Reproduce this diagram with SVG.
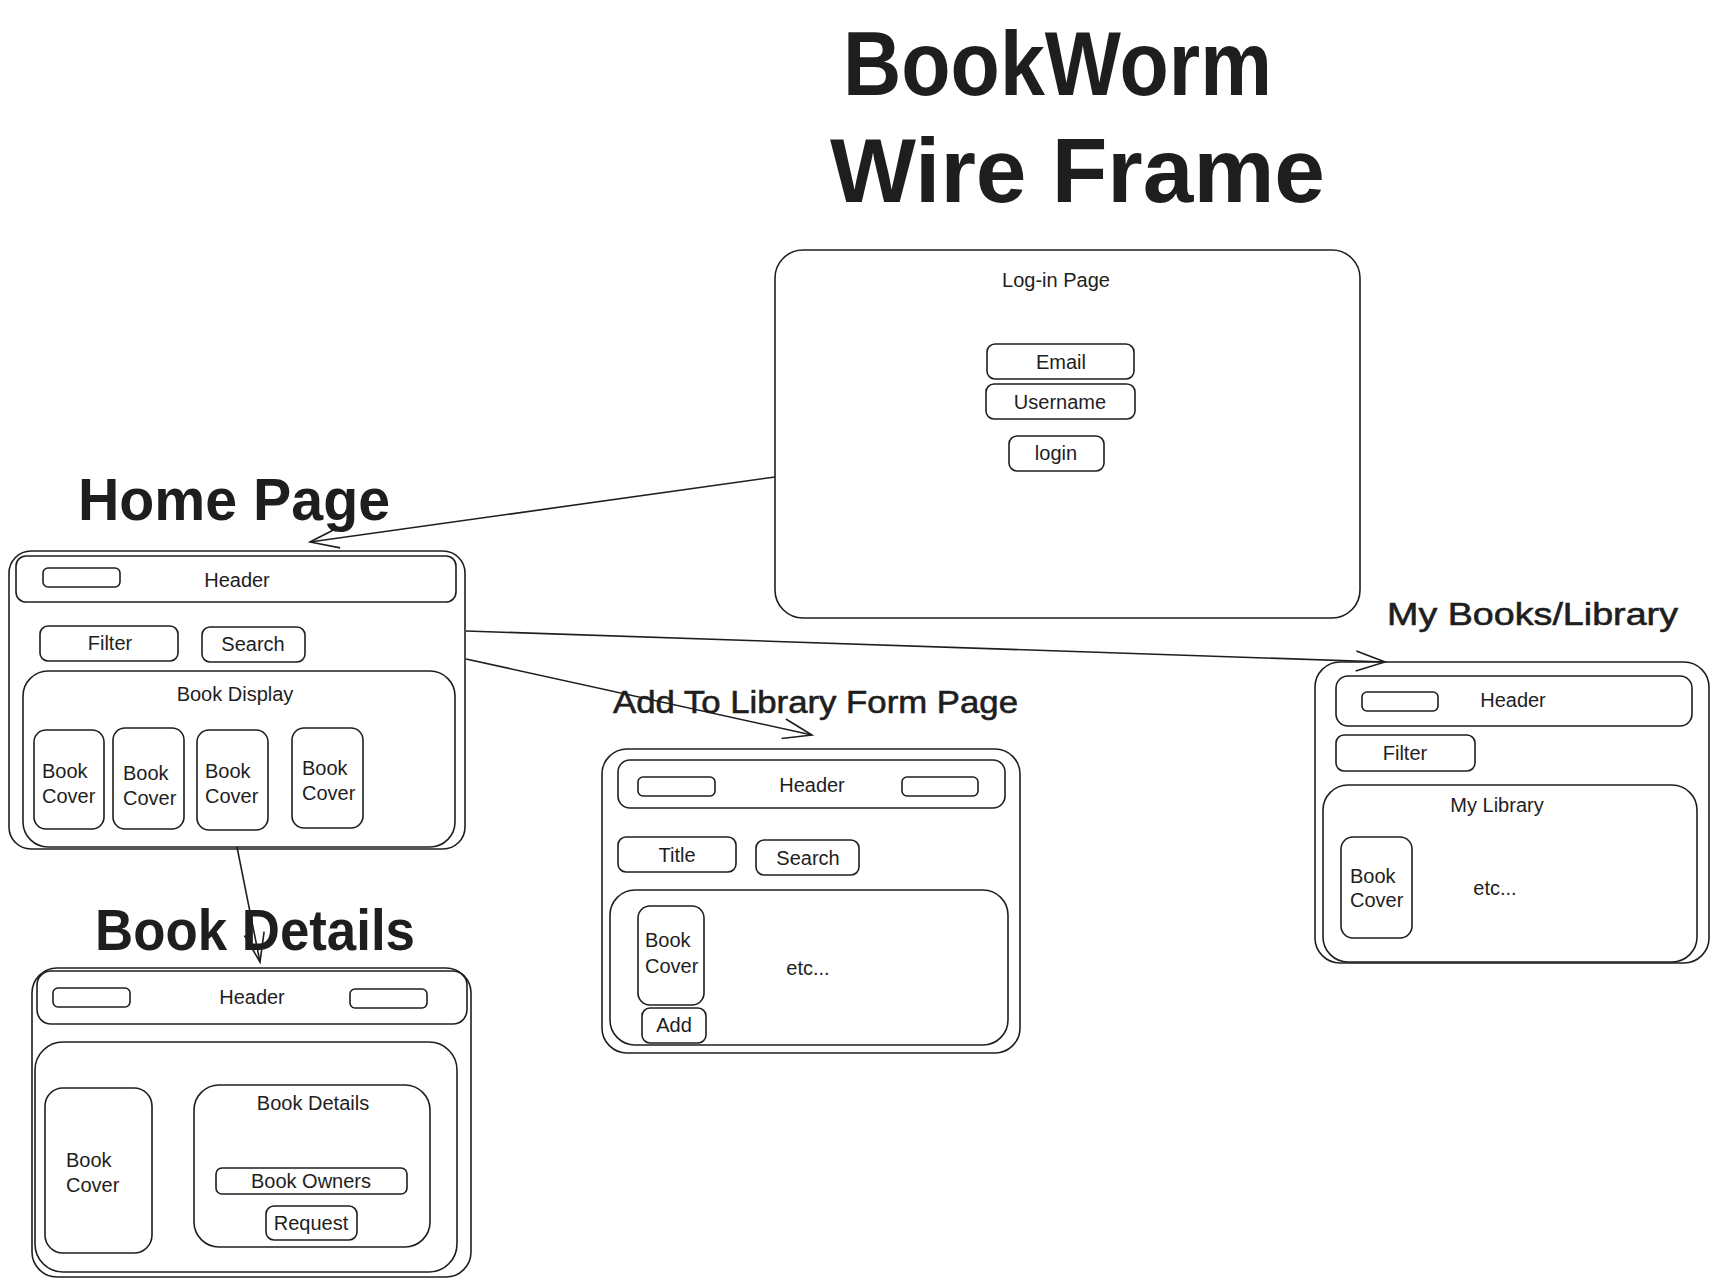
<svg xmlns="http://www.w3.org/2000/svg" width="1719" height="1287" viewBox="0 0 1719 1287">
  <style>
    .bx { fill: none; stroke: #1e1e1e; stroke-width: 1.6; }
    .t { font-family: "Liberation Sans", Arial, sans-serif; font-size: 20px; fill: #1e1e1e; }
    .c { text-anchor: middle; }
    .big { font-family: "Liberation Sans", Arial, sans-serif; font-weight: bold; fill: #1e1e1e; }
    .mid { font-family: "Liberation Sans", Arial, sans-serif; font-size: 32px; fill: #1e1e1e; stroke: #1e1e1e; stroke-width: 0.6; }
    .conn { fill: none; stroke: #1e1e1e; stroke-width: 1.6; }
  </style>
  <defs>
    <marker id="arr" markerUnits="userSpaceOnUse" markerWidth="40" markerHeight="30" refX="0" refY="0" viewBox="-32 -15 36 30" orient="auto">
      <path d="M -29 -10 L 0 0 L -29 10" fill="none" stroke="#1e1e1e" stroke-width="1.6"/>
    </marker>
  </defs>
  <rect width="1719" height="1287" fill="#ffffff"/>

  <g id="title">
    <text class="big" x="843" y="95" font-size="90" textLength="429" lengthAdjust="spacingAndGlyphs">BookWorm</text>
    <text class="big" x="830" y="202" font-size="90" textLength="495" lengthAdjust="spacingAndGlyphs">Wire Frame</text>
  </g>

  <g id="login-page">
    <rect class="bx" x="775" y="250" width="585" height="368" rx="28"/>
    <text class="t c" x="1056" y="287">Log-in Page</text>
    <rect class="bx" x="987" y="344" width="147" height="35" rx="8"/>
    <text class="t c" x="1061" y="369">Email</text>
    <rect class="bx" x="986" y="384" width="149" height="35" rx="8"/>
    <text class="t c" x="1060" y="409">Username</text>
    <rect class="bx" x="1009" y="436" width="95" height="35" rx="8"/>
    <text class="t c" x="1056" y="460">login</text>
  </g>

  <g id="home-page">
    <text class="big" x="78" y="520" font-size="60" textLength="312" lengthAdjust="spacingAndGlyphs">Home Page</text>
    <rect class="bx" x="9" y="551" width="456" height="298" rx="22"/>
    <rect class="bx" x="16" y="556" width="440" height="46" rx="10"/>
    <rect class="bx" x="43" y="568" width="77" height="19" rx="5"/>
    <text class="t c" x="237" y="587">Header</text>
    <rect class="bx" x="40" y="626" width="138" height="35" rx="8"/>
    <text class="t c" x="110" y="650">Filter</text>
    <rect class="bx" x="202" y="627" width="103" height="35" rx="8"/>
    <text class="t c" x="253" y="651">Search</text>
    <rect class="bx" x="23" y="671" width="432" height="176" rx="25"/>
    <text class="t c" x="235" y="701">Book Display</text>
    <rect class="bx" x="34" y="730" width="70" height="99" rx="12"/>
    <text class="t" x="42" y="778">Book</text>
    <text class="t" x="42" y="803">Cover</text>
    <rect class="bx" x="113" y="728" width="71" height="101" rx="12"/>
    <text class="t" x="123" y="780">Book</text>
    <text class="t" x="123" y="805">Cover</text>
    <rect class="bx" x="197" y="730" width="71" height="100" rx="12"/>
    <text class="t" x="205" y="778">Book</text>
    <text class="t" x="205" y="803">Cover</text>
    <rect class="bx" x="292" y="728" width="71" height="100" rx="12"/>
    <text class="t" x="302" y="775">Book</text>
    <text class="t" x="302" y="800">Cover</text>
  </g>

  <g id="book-details">
    <text class="big" x="95" y="950" font-size="58" textLength="320" lengthAdjust="spacingAndGlyphs">Book Details</text>
    <rect class="bx" x="32" y="968" width="439" height="309" rx="25"/>
    <rect class="bx" x="37" y="971" width="430" height="53" rx="14"/>
    <rect class="bx" x="53" y="988" width="77" height="19" rx="5"/>
    <rect class="bx" x="350" y="989" width="77" height="19" rx="5"/>
    <text class="t c" x="252" y="1004">Header</text>
    <rect class="bx" x="35" y="1042" width="422" height="230" rx="28"/>
    <rect class="bx" x="45" y="1088" width="107" height="165" rx="18"/>
    <text class="t" x="66" y="1167">Book</text>
    <text class="t" x="66" y="1192">Cover</text>
    <rect class="bx" x="194" y="1085" width="236" height="162" rx="25"/>
    <text class="t c" x="313" y="1110">Book Details</text>
    <rect class="bx" x="216" y="1168" width="191" height="26" rx="6"/>
    <text class="t c" x="311" y="1188">Book Owners</text>
    <rect class="bx" x="266" y="1206" width="91" height="34" rx="8"/>
    <text class="t c" x="311" y="1230">Request</text>
  </g>

  <g id="add-to-library">
    <text class="mid" x="613" y="713" textLength="405" lengthAdjust="spacingAndGlyphs">Add To Library Form Page</text>
    <rect class="bx" x="602" y="749" width="418" height="304" rx="25"/>
    <rect class="bx" x="618" y="760" width="387" height="48" rx="12"/>
    <rect class="bx" x="638" y="777" width="77" height="19" rx="5"/>
    <rect class="bx" x="902" y="777" width="76" height="19" rx="5"/>
    <text class="t c" x="812" y="792">Header</text>
    <rect class="bx" x="618" y="837" width="118" height="35" rx="8"/>
    <text class="t c" x="677" y="862">Title</text>
    <rect class="bx" x="756" y="840" width="103" height="35" rx="8"/>
    <text class="t c" x="808" y="865">Search</text>
    <rect class="bx" x="610" y="890" width="398" height="155" rx="25"/>
    <rect class="bx" x="638" y="906" width="66" height="99" rx="12"/>
    <text class="t" x="645" y="947">Book</text>
    <text class="t" x="645" y="973">Cover</text>
    <rect class="bx" x="642" y="1008" width="64" height="35" rx="8"/>
    <text class="t c" x="674" y="1032">Add</text>
    <text class="t c" x="808" y="975">etc...</text>
  </g>

  <g id="my-books">
    <text class="mid" x="1387" y="625" textLength="291" lengthAdjust="spacingAndGlyphs">My Books/Library</text>
    <rect class="bx" x="1315" y="662" width="394" height="301" rx="25"/>
    <rect class="bx" x="1336" y="676" width="356" height="50" rx="12"/>
    <rect class="bx" x="1362" y="692" width="76" height="19" rx="5"/>
    <text class="t c" x="1513" y="707">Header</text>
    <rect class="bx" x="1336" y="735" width="139" height="36" rx="8"/>
    <text class="t c" x="1405" y="760">Filter</text>
    <rect class="bx" x="1323" y="785" width="374" height="177" rx="25"/>
    <text class="t c" x="1497" y="812">My Library</text>
    <rect class="bx" x="1341" y="837" width="71" height="101" rx="12"/>
    <text class="t" x="1350" y="883">Book</text>
    <text class="t" x="1350" y="907">Cover</text>
    <text class="t c" x="1495" y="895">etc...</text>
  </g>

  <g id="connectors">
    <path class="conn" d="M 775 477 L 310 542" marker-end="url(#arr)"/>
    <path class="conn" d="M 466 631 L 1385 662" marker-end="url(#arr)"/>
    <path class="conn" d="M 466 659 L 812 735" marker-end="url(#arr)"/>
    <path class="conn" d="M 237 847 L 260 962" marker-end="url(#arr)"/>
  </g>
</svg>
